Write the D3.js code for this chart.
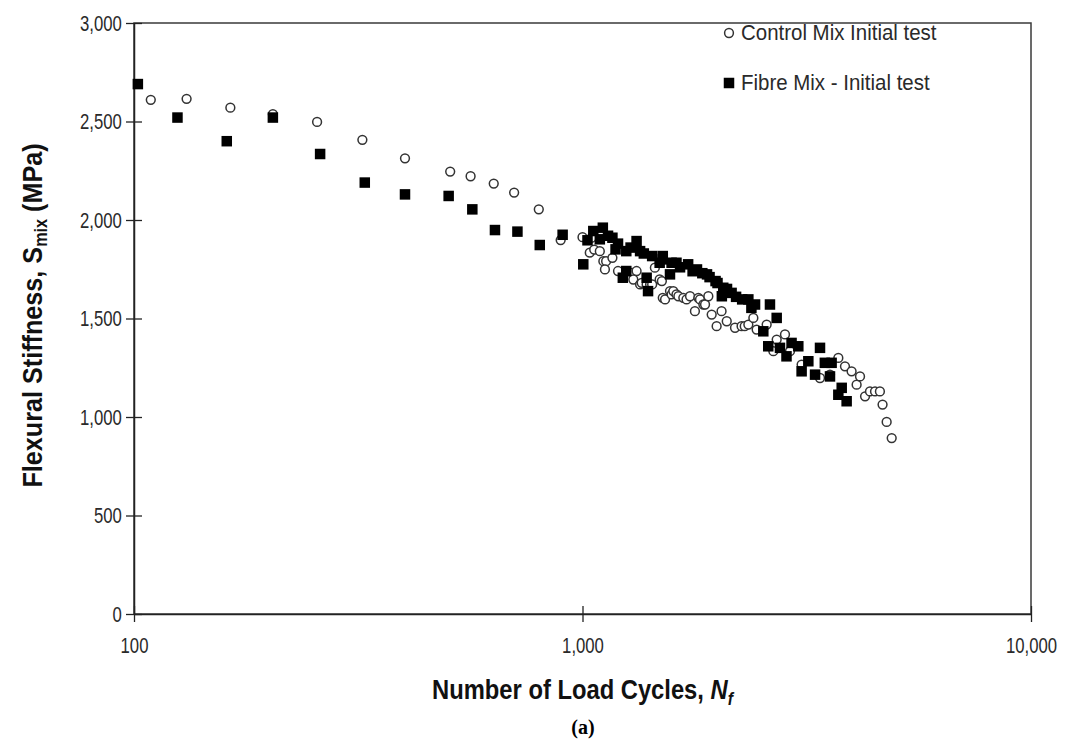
<!DOCTYPE html>
<html>
<head>
<meta charset="utf-8">
<script src="https://d3js.org/d3.v7.min.js"></script>
<style>
  body { margin: 0; background: #fff; }
  svg { display: block; }
</style>
</head>
<body>
<svg id="chart" width="1067" height="747"></svg>
<script>
// control mix - initial test (open circles)
var controlCycles = [109, 131, 164, 204, 256, 323, 402, 507, 563, 634, 704, 799, 894, 1000,
    1048, 1038, 1062, 1093, 1113, 1129, 1166, 1122, 1200, 1290, 1320, 1298, 1344, 1355, 1390,
    1415, 1430, 1450, 1486, 1510, 1503, 1528, 1567, 1580, 1594, 1620, 1636, 1678, 1706, 1737,
    1781, 1813, 1828, 1860, 1876, 1908, 1941, 1991, 2042, 2097, 2188, 2263, 2300, 2343, 2404,
    2445, 2574, 2664, 2710, 2828, 2902, 3080, 3385, 3563, 3719, 3848, 3981, 4085, 4157, 4266,
    4375, 4490, 4604, 4667, 4766, 4891];
var controlStiffness = [2610, 2615, 2570, 2537, 2498, 2407, 2313, 2246, 2222, 2185, 2139, 2054, 1898, 1913,
    1910, 1834, 1850, 1842, 1791, 1791, 1808, 1749, 1741, 1732, 1741, 1698, 1673, 1681, 1673,
    1673, 1673, 1758, 1698, 1605, 1690, 1597, 1639, 1622, 1639, 1622, 1613, 1605, 1597, 1613,
    1537, 1605, 1597, 1571, 1571, 1613, 1520, 1461, 1537, 1486, 1453, 1461, 1461, 1469, 1503,
    1444, 1469, 1334, 1393, 1419, 1334, 1266, 1198, 1215, 1300, 1257, 1232, 1164, 1206, 1105,
    1130, 1130, 1130, 1063, 975, 893];

// fibre mix - initial test (filled squares)
var fibreCycles = [102, 125, 161, 204, 260, 327, 402, 503, 568, 638, 716, 803, 903, 1004,
    1026, 1057, 1093, 1110, 1140, 1166, 1185, 1200, 1230, 1252, 1252, 1280, 1320, 1344, 1370,
    1390, 1400, 1430, 1486, 1510, 1510, 1567, 1580, 1620, 1650, 1720, 1760, 1800, 1850, 1895,
    1920, 1980, 2000, 2045, 2060, 2100, 2150, 2200, 2270, 2343, 2380, 2425, 2530, 2595, 2618,
    2710, 2756, 2850, 2925, 3028, 3080, 3188, 3300, 3385, 3470, 3563, 3593, 3719, 3784, 3881];
var fibreStiffness = [2690, 2520, 2400, 2520, 2335, 2190, 2130, 2122, 2054, 1949, 1941, 1873, 1925, 1775,
    1897, 1944, 1902, 1961, 1920, 1910, 1851, 1880, 1707, 1842, 1741, 1860, 1893, 1842, 1830,
    1707, 1639, 1817, 1783, 1817, 1800, 1724, 1783, 1783, 1760, 1775, 1740, 1749, 1730, 1724,
    1710, 1690, 1680, 1613, 1656, 1650, 1630, 1610, 1597, 1597, 1554, 1571, 1435, 1359, 1571,
    1503, 1351, 1308, 1376, 1359, 1232, 1283, 1215, 1351, 1275, 1206, 1275, 1113, 1148, 1080];

var xTicks = [100, 1000, 10000];
var yTicks = [0, 500, 1000, 1500, 2000, 2500, 3000];

var controlName = "Control Mix Initial test";
var fibreName = "Fibre Mix - Initial test";

// no Arial Narrow here, so Liberation Sans gets squeezed sideways
var sans = "'Liberation Sans', Arial, sans-serif";

var plot = {left: 134, right: 1031, top: 23, bottom: 614};

var svg = d3.select("#chart");

var x = d3.scaleLog()
    .domain([100, 10000])
    .range([plot.left, plot.right]);

var y = d3.scaleLinear()
    .domain([0, 3000])
    .range([plot.bottom, plot.top]);

var fmt = d3.format(",");

// frame (top and right edges)
svg.append("rect")
    .attr("x", plot.left)
    .attr("y", plot.top)
    .attr("width", plot.right - plot.left)
    .attr("height", plot.bottom - plot.top)
    .attr("fill", "none")
    .attr("stroke", "#3a3a3a")
    .attr("stroke-width", 1.5);

// y axis with ticks crossing the line
var yAxis = svg.append("g")
    .attr("transform", "translate(" + plot.left + ",0)")
    .call(d3.axisLeft(y).tickValues(yTicks).tickFormat(fmt).tickSize(8).tickSizeOuter(0).tickPadding(8));
yAxis.selectAll(".tick line").attr("x1", 8);

// x axis
var xAxis = svg.append("g")
    .attr("transform", "translate(0," + plot.bottom + ")")
    .call(d3.axisBottom(x).tickValues(xTicks).tickFormat(fmt).tickSize(8).tickSizeOuter(0).tickPadding(15));
xAxis.selectAll(".tick line").attr("y1", -8);

svg.selectAll(".domain").attr("stroke", "#222").attr("stroke-width", 1.5);
svg.selectAll(".tick line").attr("stroke", "#222").attr("stroke-width", 1.3);
svg.selectAll(".tick text")
    .attr("fill", "#2a2a2a")
    .attr("transform", "scale(0.76,1)")
    .style("font-family", sans)
    .style("font-size", "22px");

// control series
svg.append("g")
    .selectAll("circle")
    .data(d3.zip(controlCycles, controlStiffness))
    .enter()
    .append("circle")
    .attr("cx", function(d) { return x(d[0]); })
    .attr("cy", function(d) { return y(d[1]); })
    .attr("r", 4.4)
    .attr("fill", "#fff")
    .attr("stroke", "#333")
    .attr("stroke-width", 1.5);

// fibre series
var sq = 10.5;
svg.append("g")
    .selectAll("rect")
    .data(d3.zip(fibreCycles, fibreStiffness))
    .enter()
    .append("rect")
    .attr("x", function(d) { return x(d[0]) - sq / 2; })
    .attr("y", function(d) { return y(d[1]) - sq / 2; })
    .attr("width", sq)
    .attr("height", sq)
    .attr("fill", "#000");

// legend
var leg = svg.append("g")
    .style("font-family", sans)
    .style("font-size", "22px")
    .attr("fill", "#2a2a2a");

leg.append("circle")
    .attr("cx", 729).attr("cy", 33).attr("r", 4.4)
    .attr("fill", "#fff").attr("stroke", "#333").attr("stroke-width", 1.5);
leg.append("text")
    .attr("transform", "translate(741,40) scale(0.93,1)")
    .text(controlName);

leg.append("rect")
    .attr("x", 729 - sq / 2).attr("y", 83 - sq / 2).attr("width", sq).attr("height", sq)
    .attr("fill", "#000");
leg.append("text")
    .attr("transform", "translate(741,90) scale(0.93,1)")
    .text(fibreName);

// axis titles
var yTitle = svg.append("text")
    .attr("transform", "translate(42," + ((plot.top + plot.bottom) / 2 - 3) + ") rotate(-90) scale(0.9,1)")
    .attr("text-anchor", "middle")
    .style("font-family", sans)
    .style("font-weight", "bold")
    .style("font-size", "28px")
    .attr("fill", "#111");
yTitle.append("tspan").text("Flexural Stiffness, S");
yTitle.append("tspan").attr("dy", 5).style("font-size", "18px").text("mix");
yTitle.append("tspan").attr("dy", -5).text(" (MPa)");

var xTitle = svg.append("text")
    .attr("transform", "translate(" + ((plot.left + plot.right) / 2) + ",699) scale(0.88,1)")
    .attr("text-anchor", "middle")
    .style("font-family", sans)
    .style("font-weight", "bold")
    .style("font-size", "27px")
    .attr("fill", "#111");
xTitle.append("tspan").text("Number of Load Cycles, ");
xTitle.append("tspan").style("font-style", "italic").text("N");
xTitle.append("tspan").attr("dy", 6).style("font-style", "italic").style("font-size", "18px").text("f");

svg.append("text")
    .attr("x", 583)
    .attr("y", 734)
    .attr("text-anchor", "middle")
    .style("font-family", "'Liberation Serif', 'DejaVu Serif', serif")
    .style("font-weight", "bold")
    .style("font-size", "20px")
    .attr("fill", "#000")
    .text("(a)");
</script>
</body>
</html>
